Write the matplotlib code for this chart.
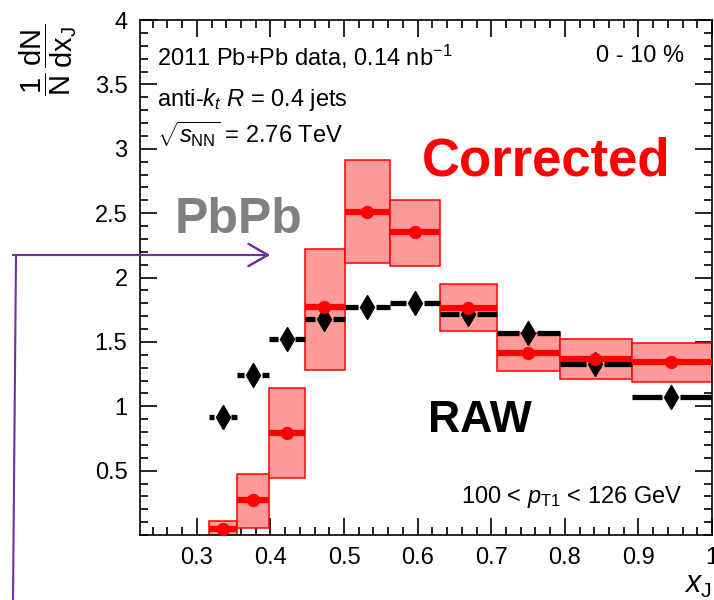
import numpy as np
import matplotlib
matplotlib.use("Agg")
import matplotlib.pyplot as plt
from matplotlib.lines import Line2D
from matplotlib.ticker import MultipleLocator, FuncFormatter

plt.rcParams['font.family'] = ['Liberation Sans', 'DejaVu Sans']
plt.rcParams['mathtext.fontset'] = 'custom'
plt.rcParams['mathtext.rm'] = 'Liberation Sans'
plt.rcParams['mathtext.it'] = 'Liberation Sans:italic'
plt.rcParams['mathtext.bf'] = 'Liberation Sans:bold'
plt.rcParams['mathtext.sf'] = 'Liberation Sans'

# x_J bins (log spaced) and their centres
edges = [0.316, 0.355, 0.398, 0.447, 0.501, 0.562, 0.631, 0.708, 0.794, 0.891, 1.0]
centers = [0.335, 0.376, 0.422, 0.473, 0.531, 0.596, 0.668, 0.750, 0.841, 0.944]

# unfolded distribution with systematic band
corrected = [0.05, 0.27, 0.79, 1.77, 2.51, 2.35, 1.76, 1.41, 1.37, 1.34]
sys_low = [-0.01, 0.055, 0.44, 1.28, 2.11, 2.09, 1.585, 1.27, 1.21, 1.19]
sys_high = [0.11, 0.47, 1.14, 2.22, 2.91, 2.60, 1.95, 1.57, 1.52, 1.49]

# raw distribution
raw = [0.92, 1.24, 1.52, 1.68, 1.77, 1.80, 1.72, 1.57, 1.33, 1.07]

W, H = 714, 600
fig = plt.figure(figsize=(W / 100, H / 100), dpi=100)
ax = fig.add_axes([140 / W, 1 - 535 / H, 572 / W, 515 / H])


def px(x, y):
    return x / W, 1 - y / H


lo = np.array(edges[:-1])
hi = np.array(edges[1:])
c = np.array(centers)

ax.bar(lo, np.array(sys_high) - np.array(sys_low), width=hi - lo, bottom=sys_low,
       align='edge', color='#ff9a9a', edgecolor='#ff0000', linewidth=1.1, zorder=2)

gap = 0.012
ax.hlines(raw, lo, c - gap, color='black', linewidth=3.8, zorder=3)
ax.hlines(raw, c + gap, hi, color='black', linewidth=3.8, zorder=3)
ax.plot(c, raw, 'd', color='black', markersize=12, zorder=3)

ax.hlines(corrected, lo, hi, color='#ff0000', linewidth=4.5, zorder=4)
ax.plot(c, corrected, 'o', color='#ff0000', markersize=8.5, zorder=4)

ax.set_xlim(0.2227, 1.0)
ax.set_ylim(0, 4)
ax.set_xticks(np.arange(0.3, 1.01, 0.1))
ax.set_yticks(np.arange(0.5, 4.01, 0.5))
ax.xaxis.set_minor_locator(MultipleLocator(0.02))
ax.yaxis.set_minor_locator(MultipleLocator(0.1))
fmt = FuncFormatter(lambda v, p: '%g' % round(v, 2))
ax.xaxis.set_major_formatter(fmt)
ax.yaxis.set_major_formatter(fmt)
ax.tick_params(which='both', direction='in', top=True, right=True,
               width=1.2, labelsize=17, colors='black')
ax.tick_params(which='major', length=12, pad=9)
ax.tick_params(which='minor', length=6)
for s in ax.spines.values():
    s.set_linewidth(1.2)

# axis titles
fig.text(*px(712, 600), r'$x_{\mathrm{J}}$', fontsize=22, ha='right', va='bottom')
fig.text(*px(48, 60),
         r'$\dfrac{\mathrm{1}}{\mathrm{N}}\,\dfrac{\mathrm{dN}}{\mathrm{dx_J}}$',
         fontsize=21, rotation=90, ha='center', va='center')

# plot labels
fig.text(*px(157, 66), r'2011 Pb+Pb data, 0.14 nb$^{-1}$', fontsize=17, va='baseline')
fig.text(*px(157, 106), r'anti-$k_{t}$ $R$ = 0.4 jets', fontsize=17, va='baseline')
fig.text(*px(157, 143), r'$\sqrt{s_{\mathrm{NN}}}$ = 2.76 TeV', fontsize=17, va='baseline')
fig.text(*px(684, 62), '0 - 10 %', fontsize=17, ha='right', va='baseline')
fig.text(*px(683, 503), r'100 < $p_{\mathrm{T1}}$ < 126 GeV', fontsize=17, ha='right',
         va='baseline')

fig.text(*px(422, 175), 'Corrected', fontsize=38, fontweight='bold', color='#ff0000',
         va='baseline')
fig.text(*px(175, 233), 'PbPb', fontsize=36, fontweight='bold', color='#808080',
         va='baseline')
fig.text(*px(428, 432), 'RAW', fontsize=32, fontweight='bold', color='black',
         va='baseline')

# pointer
purple = '#7030a0'
fig.add_artist(Line2D([16 / W, 13 / W], [1 - 256 / H, 0], transform=fig.transFigure,
                      color=purple, linewidth=1.5))
fig.add_artist(plt.annotate('', xy=px(270, 255), xytext=px(13, 255),
                            xycoords='figure fraction', textcoords='figure fraction',
                            arrowprops=dict(arrowstyle='->,head_length=0.7,head_width=0.4',
                                            mutation_scale=20, color=purple,
                                            linewidth=1.5, shrinkA=0, shrinkB=0)))

fig.savefig('out.png', dpi=100)
